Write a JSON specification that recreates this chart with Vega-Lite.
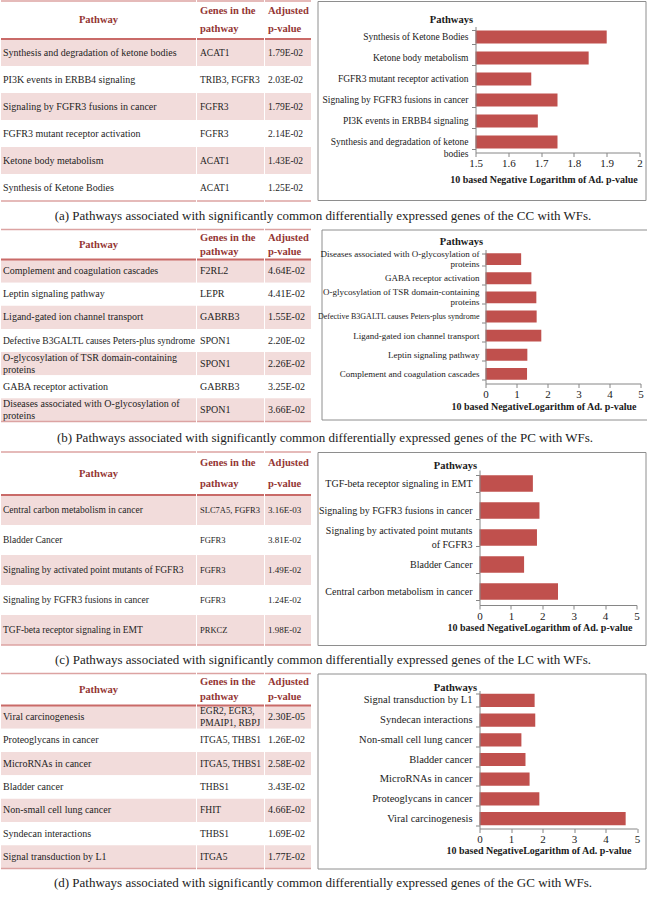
{
 "$schema": "https://vega.github.io/schema/vega-lite/v6.json",
 "padding": 0,
 "background": "white",
 "spacing": 5.5,
 "config": {
  "font": "Liberation Serif",
  "view": {"stroke": null},
  "axis": {"labelFont": "Liberation Serif", "titleFont": "Liberation Serif"},
  "title": {"font": "Liberation Serif"},
  "text": {"font": "Liberation Serif"}
 },
 "datasets": {
  "tA": [
   {"i": 1, "pathway": "Synthesis and degradation of ketone bodies", "genes": "ACAT1", "padj": "1.79E-02"},
   {"i": 2, "pathway": "PI3K events in ERBB4 signaling", "genes": "TRIB3, FGFR3", "padj": "2.03E-02"},
   {"i": 3, "pathway": "Signaling by FGFR3 fusions in cancer", "genes": "FGFR3", "padj": "1.79E-02"},
   {"i": 4, "pathway": "FGFR3 mutant receptor activation", "genes": "FGFR3", "padj": "2.14E-02"},
   {"i": 5, "pathway": "Ketone body metabolism", "genes": "ACAT1", "padj": "1.43E-02"},
   {"i": 6, "pathway": "Synthesis of Ketone Bodies", "genes": "ACAT1", "padj": "1.25E-02"}
  ],
  "cA": [
   {"pathway": "Synthesis of Ketone Bodies", "v": 1.90},
   {"pathway": "Ketone body metabolism", "v": 1.845},
   {"pathway": "FGFR3 mutant receptor activation", "v": 1.67},
   {"pathway": "Signaling by FGFR3 fusions in cancer", "v": 1.75},
   {"pathway": "PI3K events in ERBB4 signaling", "v": 1.69},
   {"pathway": "Synthesis and degradation of ketone\nbodies", "v": 1.75}
  ],
  "tB": [
   {"i": 1, "pathway": "Complement and coagulation cascades", "genes": "F2RL2", "padj": "4.64E-02"},
   {"i": 2, "pathway": "Leptin signaling pathway", "genes": "LEPR", "padj": "4.41E-02"},
   {"i": 3, "pathway": "Ligand-gated ion channel transport", "genes": "GABRB3", "padj": "1.55E-02"},
   {"i": 4, "pathway": "Defective B3GALTL causes Peters-plus syndrome", "genes": "SPON1", "padj": "2.20E-02"},
   {"i": 5, "pathway": "O-glycosylation of TSR domain-containing\nproteins", "genes": "SPON1", "padj": "2.26E-02"},
   {"i": 6, "pathway": "GABA receptor activation", "genes": "GABRB3", "padj": "3.25E-02"},
   {"i": 7, "pathway": "Diseases associated with O-glycosylation of\nproteins", "genes": "SPON1", "padj": "3.66E-02"}
  ],
  "cB": [
   {"pathway": "Diseases associated with O-glycosylation of\nproteins", "v": 1.15},
   {"pathway": "GABA receptor activation", "v": 1.48},
   {"pathway": "O-glycosylation of TSR domain-containing\nproteins", "v": 1.64},
   {"pathway": "Defective B3GALTL causes Peters-plus syndrome", "v": 1.65},
   {"pathway": "Ligand-gated ion channel transport", "v": 1.80},
   {"pathway": "Leptin signaling pathway", "v": 1.35},
   {"pathway": "Complement and coagulation cascades", "v": 1.34}
  ],
  "tC": [
   {"i": 1, "pathway": "Central carbon metabolism in cancer", "genes": "SLC7A5, FGFR3", "padj": "3.16E-03"},
   {"i": 2, "pathway": "Bladder Cancer", "genes": "FGFR3", "padj": "3.81E-02"},
   {"i": 3, "pathway": "Signaling by activated point mutants of FGFR3", "genes": "FGFR3", "padj": "1.49E-02"},
   {"i": 4, "pathway": "Signaling by FGFR3 fusions in cancer", "genes": "FGFR3", "padj": "1.24E-02"},
   {"i": 5, "pathway": "TGF-beta receptor signaling in EMT", "genes": "PRKCZ", "padj": "1.98E-02"}
  ],
  "cC": [
   {"pathway": "TGF-beta receptor signaling in EMT", "v": 1.70},
   {"pathway": "Signaling by FGFR3 fusions in cancer", "v": 1.91},
   {"pathway": "Signaling by activated point mutants\nof FGFR3", "v": 1.83},
   {"pathway": "Bladder Cancer", "v": 1.42},
   {"pathway": "Central carbon metabolism in cancer", "v": 2.50}
  ],
  "tD": [
   {"i": 1, "pathway": "Viral carcinogenesis", "genes": "EGR2, EGR3,\nPMAIP1, RBPJ", "padj": "2.30E-05"},
   {"i": 2, "pathway": "Proteoglycans in cancer", "genes": "ITGA5, THBS1", "padj": "1.26E-02"},
   {"i": 3, "pathway": "MicroRNAs in cancer", "genes": "ITGA5, THBS1", "padj": "2.58E-02"},
   {"i": 4, "pathway": "Bladder cancer", "genes": "THBS1", "padj": "3.43E-02"},
   {"i": 5, "pathway": "Non-small cell lung cancer", "genes": "FHIT", "padj": "4.66E-02"},
   {"i": 6, "pathway": "Syndecan interactions", "genes": "THBS1", "padj": "1.69E-02"},
   {"i": 7, "pathway": "Signal transduction by L1", "genes": "ITGA5", "padj": "1.77E-02"}
  ],
  "cD": [
   {"pathway": "Signal transduction by L1", "v": 1.75},
   {"pathway": "Syndecan interactions", "v": 1.77},
   {"pathway": "Non-small cell lung cancer", "v": 1.33},
   {"pathway": "Bladder cancer", "v": 1.46},
   {"pathway": "MicroRNAs in cancer", "v": 1.59},
   {"pathway": "Proteoglycans in cancer", "v": 1.90},
   {"pathway": "Viral carcinogenesis", "v": 4.64}
  ]
 },
 "vconcat": [
  {
   "title": {"text": "(a) Pathways associated with significantly common differentially expressed genes of the CC with WFs.", "orient": "bottom", "anchor": "middle", "offset": 8, "fontSize": 13, "fontWeight": "normal", "color": "#222222"},
   "spacing": 4.5,
   "hconcat": [
    {"spacing": -2, "vconcat": [
     {"spacing": -2, "hconcat": [
      {"width": 195, "height": 38, "data": {"values": [{"h": "Pathway"}]},
       "layer": [
        {"mark": {"type": "text", "align": "center", "baseline": "middle", "fontSize": 10.5, "fontWeight": "bold", "color": "#943634"},
         "encoding": {"y": {"field": "h", "type": "nominal", "axis": null, "scale": {"paddingInner": 0, "paddingOuter": 0}}, "x": {"datum": 0.5, "type": "quantitative", "scale": {"domain": [0, 1]}, "axis": null}, "text": {"field": "h"}}},
        {"mark": {"type": "rule", "color": "#dca3a2", "strokeWidth": 1.5},
         "encoding": {"y": {"field": "h", "type": "nominal", "bandPosition": 0, "axis": null}, "x": {"datum": 0, "type": "quantitative", "axis": null}, "x2": {"datum": 1}}}
       ]},
      {"width": 67, "height": 38, "data": {"values": [{"h": "Genes in the\npathway"}]},
       "layer": [
        {"mark": {"type": "text", "align": "left", "dx": 3, "dy": -9, "baseline": "middle", "fontSize": 10.5, "fontWeight": "bold", "color": "#943634", "lineBreak": "\n", "lineHeight": 18},
         "encoding": {"y": {"field": "h", "type": "nominal", "axis": null, "scale": {"paddingInner": 0, "paddingOuter": 0}}, "x": {"datum": 0, "type": "quantitative", "scale": {"domain": [0, 1]}, "axis": null}, "text": {"field": "h"}}},
        {"mark": {"type": "rule", "color": "#dca3a2", "strokeWidth": 1.5},
         "encoding": {"y": {"field": "h", "type": "nominal", "bandPosition": 0, "axis": null}, "x": {"datum": 0, "type": "quantitative", "axis": null}, "x2": {"datum": 1}}}
       ]},
      {"width": 46, "height": 38, "data": {"values": [{"h": "Adjusted\np-value"}]},
       "layer": [
        {"mark": {"type": "text", "align": "left", "dx": 3, "dy": -9, "baseline": "middle", "fontSize": 10.5, "fontWeight": "bold", "color": "#943634", "lineBreak": "\n", "lineHeight": 18},
         "encoding": {"y": {"field": "h", "type": "nominal", "axis": null, "scale": {"paddingInner": 0, "paddingOuter": 0}}, "x": {"datum": 0, "type": "quantitative", "scale": {"domain": [0, 1]}, "axis": null}, "text": {"field": "h"}}},
        {"mark": {"type": "rule", "color": "#dca3a2", "strokeWidth": 1.5},
         "encoding": {"y": {"field": "h", "type": "nominal", "bandPosition": 0, "axis": null}, "x": {"datum": 0, "type": "quantitative", "axis": null}, "x2": {"datum": 1}}}
       ]}
     ]},
     {"spacing": -3, "hconcat": [
      {"width": 195, "height": 162, "data": {"name": "tA"},
       "layer": [
        {"mark": "rect", "encoding": {"y": {"field": "i", "type": "ordinal", "axis": null, "scale": {"paddingInner": 0, "paddingOuter": 0}}, "x": {"datum": 0, "type": "quantitative", "scale": {"domain": [0, 1]}, "axis": null}, "x2": {"datum": 1}, "fill": {"condition": {"test": "datum.i % 2 == 1", "value": "#f2dcdb"}, "value": "#ffffff"}}},
        {"mark": {"type": "text", "align": "left", "baseline": "middle", "dx": 2, "fontSize": 10, "color": "#1e1e1e"},
         "encoding": {"y": {"field": "i", "type": "ordinal", "axis": null}, "x": {"datum": 0, "type": "quantitative", "axis": null}, "text": {"field": "pathway"}}},
        {"transform": [{"filter": "datum.i == 1"}], "mark": {"type": "rule", "color": "#c96a68", "strokeWidth": 2},
         "encoding": {"y": {"field": "i", "type": "ordinal", "bandPosition": 0, "axis": null}, "x": {"datum": 0, "type": "quantitative", "axis": null}, "x2": {"datum": 1}}},
        {"transform": [{"filter": "datum.i == 6"}], "mark": {"type": "rule", "color": "#dca3a2", "strokeWidth": 1.5},
         "encoding": {"y": {"field": "i", "type": "ordinal", "bandPosition": 1, "axis": null}, "x": {"datum": 0, "type": "quantitative", "axis": null}, "x2": {"datum": 1}}}
       ]},
      {"width": 67, "height": 162, "data": {"name": "tA"},
       "layer": [
        {"mark": "rect", "encoding": {"y": {"field": "i", "type": "ordinal", "axis": null, "scale": {"paddingInner": 0, "paddingOuter": 0}}, "x": {"datum": 0, "type": "quantitative", "scale": {"domain": [0, 1]}, "axis": null}, "x2": {"datum": 1}, "fill": {"condition": {"test": "datum.i % 2 == 1", "value": "#f2dcdb"}, "value": "#ffffff"}}},
        {"mark": {"type": "text", "align": "left", "baseline": "middle", "dx": 3, "fontSize": 9.5, "color": "#1e1e1e"},
         "encoding": {"y": {"field": "i", "type": "ordinal", "axis": null}, "x": {"datum": 0, "type": "quantitative", "axis": null}, "text": {"field": "genes"}}},
        {"transform": [{"filter": "datum.i == 1"}], "mark": {"type": "rule", "color": "#c96a68", "strokeWidth": 2},
         "encoding": {"y": {"field": "i", "type": "ordinal", "bandPosition": 0, "axis": null}, "x": {"datum": 0, "type": "quantitative", "axis": null}, "x2": {"datum": 1}}},
        {"transform": [{"filter": "datum.i == 6"}], "mark": {"type": "rule", "color": "#dca3a2", "strokeWidth": 1.5},
         "encoding": {"y": {"field": "i", "type": "ordinal", "bandPosition": 1, "axis": null}, "x": {"datum": 0, "type": "quantitative", "axis": null}, "x2": {"datum": 1}}}
       ]},
      {"width": 46, "height": 162, "data": {"name": "tA"},
       "layer": [
        {"mark": "rect", "encoding": {"y": {"field": "i", "type": "ordinal", "axis": null, "scale": {"paddingInner": 0, "paddingOuter": 0}}, "x": {"datum": 0, "type": "quantitative", "scale": {"domain": [0, 1]}, "axis": null}, "x2": {"datum": 1}, "fill": {"condition": {"test": "datum.i % 2 == 1", "value": "#f2dcdb"}, "value": "#ffffff"}}},
        {"mark": {"type": "text", "align": "left", "baseline": "middle", "dx": 3, "fontSize": 9.5, "color": "#1e1e1e"},
         "encoding": {"y": {"field": "i", "type": "ordinal", "axis": null}, "x": {"datum": 0, "type": "quantitative", "axis": null}, "text": {"field": "padj"}}},
        {"transform": [{"filter": "datum.i == 1"}], "mark": {"type": "rule", "color": "#c96a68", "strokeWidth": 2},
         "encoding": {"y": {"field": "i", "type": "ordinal", "bandPosition": 0, "axis": null}, "x": {"datum": 0, "type": "quantitative", "axis": null}, "x2": {"datum": 1}}},
        {"transform": [{"filter": "datum.i == 6"}], "mark": {"type": "rule", "color": "#dca3a2", "strokeWidth": 1.5},
         "encoding": {"y": {"field": "i", "type": "ordinal", "bandPosition": 1, "axis": null}, "x": {"datum": 0, "type": "quantitative", "axis": null}, "x2": {"datum": 1}}}
       ]}
     ]}
    ]},
    {"width": 328, "height": 199,
     "view": {"stroke": "#8e8e8e"},
     "data": {"name": "cA"},
     "layer": [
      {"mark": {"type": "bar", "color": "#c0504d"},
       "encoding": {
        "y": {"field": "pathway", "type": "nominal",
              "scale": {"domain": ["Synthesis of Ketone Bodies", "Ketone body metabolism", "FGFR3 mutant receptor activation", "Signaling by FGFR3 fusions in cancer", "PI3K events in ERBB4 signaling", "Synthesis and degradation of ketone\nbodies"], "range": [25.5, 151.5], "paddingInner": 0.38, "paddingOuter": 0.19},
              "axis": {"offset": -158, "labels": false, "domainColor": "#868686", "tickColor": "#868686", "tickSize": 4, "tickBand": "extent", "title": "Pathways", "titleAngle": 0, "titleAlign": "right", "titleBaseline": "middle", "titleX": -3, "titleY": 18, "titleFontSize": 10.5, "titleFontWeight": "bold", "titleColor": "#1a1a1a", "zindex": 1}},
        "x": {"field": "v", "type": "quantitative",
              "scale": {"domain": [1.5, 2], "range": [158, 322], "nice": false, "zero": false},
              "axis": {"offset": -47.5, "values": [1.5, 1.6, 1.7, 1.8, 1.9, 2], "format": "~g", "labelFlush": false, "domainColor": "#868686", "tickColor": "#868686", "tickSize": 4, "labelFontSize": 11, "labelPadding": 1, "labelColor": "#1a1a1a", "grid": false, "title": "10 based Negative  Logarithm of Ad. p-value", "titleFontSize": 10, "titleFontWeight": "bold", "titleColor": "#1a1a1a", "titleX": 226, "titleY": 27, "titleAlign": "center", "titleBaseline": "middle", "zindex": 1}},
        "x2": {"datum": 1.5}}},
      {"mark": {"type": "text", "align": "right", "baseline": "middle", "dx": -7, "fontSize": 9.5, "lineBreak": "\n", "lineHeight": 12, "color": "#1a1a1a"},
       "encoding": {"y": {"field": "pathway", "type": "nominal"}, "x": {"datum": 1.5, "type": "quantitative"}, "text": {"field": "pathway"}}}
     ]}
   ]
  },
  {
   "title": {"text": "(b) Pathways associated with significantly common differentially expressed genes of the PC with WFs.", "orient": "bottom", "anchor": "middle", "offset": 10, "fontSize": 13, "fontWeight": "normal", "color": "#222222"},
   "spacing": 4.5,
   "hconcat": [
    {"spacing": -2, "vconcat": [
     {"spacing": -2, "hconcat": [
      {"width": 195, "height": 30, "data": {"values": [{"h": "Pathway"}]},
       "layer": [
        {"mark": {"type": "text", "align": "center", "baseline": "middle", "fontSize": 10.5, "fontWeight": "bold", "color": "#943634"},
         "encoding": {"y": {"field": "h", "type": "nominal", "axis": null, "scale": {"paddingInner": 0, "paddingOuter": 0}}, "x": {"datum": 0.5, "type": "quantitative", "scale": {"domain": [0, 1]}, "axis": null}, "text": {"field": "h"}}},
        {"mark": {"type": "rule", "color": "#dca3a2", "strokeWidth": 1.5},
         "encoding": {"y": {"field": "h", "type": "nominal", "bandPosition": 0, "axis": null}, "x": {"datum": 0, "type": "quantitative", "axis": null}, "x2": {"datum": 1}}}
       ]},
      {"width": 67, "height": 30, "data": {"values": [{"h": "Genes in the\npathway"}]},
       "layer": [
        {"mark": {"type": "text", "align": "left", "dx": 3, "dy": -7, "baseline": "middle", "fontSize": 10.5, "fontWeight": "bold", "color": "#943634", "lineBreak": "\n", "lineHeight": 14},
         "encoding": {"y": {"field": "h", "type": "nominal", "axis": null, "scale": {"paddingInner": 0, "paddingOuter": 0}}, "x": {"datum": 0, "type": "quantitative", "scale": {"domain": [0, 1]}, "axis": null}, "text": {"field": "h"}}},
        {"mark": {"type": "rule", "color": "#dca3a2", "strokeWidth": 1.5},
         "encoding": {"y": {"field": "h", "type": "nominal", "bandPosition": 0, "axis": null}, "x": {"datum": 0, "type": "quantitative", "axis": null}, "x2": {"datum": 1}}}
       ]},
      {"width": 46, "height": 30, "data": {"values": [{"h": "Adjusted\np-value"}]},
       "layer": [
        {"mark": {"type": "text", "align": "left", "dx": 3, "dy": -7, "baseline": "middle", "fontSize": 10.5, "fontWeight": "bold", "color": "#943634", "lineBreak": "\n", "lineHeight": 14},
         "encoding": {"y": {"field": "h", "type": "nominal", "axis": null, "scale": {"paddingInner": 0, "paddingOuter": 0}}, "x": {"datum": 0, "type": "quantitative", "scale": {"domain": [0, 1]}, "axis": null}, "text": {"field": "h"}}},
        {"mark": {"type": "rule", "color": "#dca3a2", "strokeWidth": 1.5},
         "encoding": {"y": {"field": "h", "type": "nominal", "bandPosition": 0, "axis": null}, "x": {"datum": 0, "type": "quantitative", "axis": null}, "x2": {"datum": 1}}}
       ]}
     ]},
     {"spacing": -3, "hconcat": [
      {"width": 195, "height": 162, "data": {"name": "tB"},
       "layer": [
        {"mark": "rect", "encoding": {"y": {"field": "i", "type": "ordinal", "axis": null, "scale": {"paddingInner": 0, "paddingOuter": 0}}, "x": {"datum": 0, "type": "quantitative", "scale": {"domain": [0, 1]}, "axis": null}, "x2": {"datum": 1}, "fill": {"condition": {"test": "datum.i % 2 == 1", "value": "#f2dcdb"}, "value": "#ffffff"}}},
        {"transform": [{"filter": "indexof(datum.pathway, '\\n') < 0"}],
         "mark": {"type": "text", "align": "left", "baseline": "middle", "dx": 2, "color": "#1e1e1e"},
         "encoding": {"y": {"field": "i", "type": "ordinal", "axis": null}, "x": {"datum": 0, "type": "quantitative", "axis": null}, "size": {"condition": {"test": "datum.i == 4", "value": 9.5}, "value": 10}, "text": {"field": "pathway"}}},
        {"transform": [{"filter": "indexof(datum.pathway, '\\n') >= 0"}],
         "mark": {"type": "text", "align": "left", "baseline": "middle", "dx": 2, "dy": -6, "fontSize": 10, "lineBreak": "\n", "lineHeight": 12, "color": "#1e1e1e"},
         "encoding": {"y": {"field": "i", "type": "ordinal", "axis": null}, "x": {"datum": 0, "type": "quantitative", "axis": null}, "text": {"field": "pathway"}}},
        {"transform": [{"filter": "datum.i == 1"}], "mark": {"type": "rule", "color": "#c96a68", "strokeWidth": 2},
         "encoding": {"y": {"field": "i", "type": "ordinal", "bandPosition": 0, "axis": null}, "x": {"datum": 0, "type": "quantitative", "axis": null}, "x2": {"datum": 1}}},
        {"transform": [{"filter": "datum.i == 7"}], "mark": {"type": "rule", "color": "#dca3a2", "strokeWidth": 1.5},
         "encoding": {"y": {"field": "i", "type": "ordinal", "bandPosition": 1, "axis": null}, "x": {"datum": 0, "type": "quantitative", "axis": null}, "x2": {"datum": 1}}}
       ]},
      {"width": 67, "height": 162, "data": {"name": "tB"},
       "layer": [
        {"mark": "rect", "encoding": {"y": {"field": "i", "type": "ordinal", "axis": null, "scale": {"paddingInner": 0, "paddingOuter": 0}}, "x": {"datum": 0, "type": "quantitative", "scale": {"domain": [0, 1]}, "axis": null}, "x2": {"datum": 1}, "fill": {"condition": {"test": "datum.i % 2 == 1", "value": "#f2dcdb"}, "value": "#ffffff"}}},
        {"mark": {"type": "text", "align": "left", "baseline": "middle", "dx": 3, "fontSize": 10, "color": "#1e1e1e"},
         "encoding": {"y": {"field": "i", "type": "ordinal", "axis": null}, "x": {"datum": 0, "type": "quantitative", "axis": null}, "text": {"field": "genes"}}},
        {"transform": [{"filter": "datum.i == 1"}], "mark": {"type": "rule", "color": "#c96a68", "strokeWidth": 2},
         "encoding": {"y": {"field": "i", "type": "ordinal", "bandPosition": 0, "axis": null}, "x": {"datum": 0, "type": "quantitative", "axis": null}, "x2": {"datum": 1}}},
        {"transform": [{"filter": "datum.i == 7"}], "mark": {"type": "rule", "color": "#dca3a2", "strokeWidth": 1.5},
         "encoding": {"y": {"field": "i", "type": "ordinal", "bandPosition": 1, "axis": null}, "x": {"datum": 0, "type": "quantitative", "axis": null}, "x2": {"datum": 1}}}
       ]},
      {"width": 46, "height": 162, "data": {"name": "tB"},
       "layer": [
        {"mark": "rect", "encoding": {"y": {"field": "i", "type": "ordinal", "axis": null, "scale": {"paddingInner": 0, "paddingOuter": 0}}, "x": {"datum": 0, "type": "quantitative", "scale": {"domain": [0, 1]}, "axis": null}, "x2": {"datum": 1}, "fill": {"condition": {"test": "datum.i % 2 == 1", "value": "#f2dcdb"}, "value": "#ffffff"}}},
        {"mark": {"type": "text", "align": "left", "baseline": "middle", "dx": 3, "fontSize": 10, "color": "#1e1e1e"},
         "encoding": {"y": {"field": "i", "type": "ordinal", "axis": null}, "x": {"datum": 0, "type": "quantitative", "axis": null}, "text": {"field": "padj"}}},
        {"transform": [{"filter": "datum.i == 1"}], "mark": {"type": "rule", "color": "#c96a68", "strokeWidth": 2},
         "encoding": {"y": {"field": "i", "type": "ordinal", "bandPosition": 0, "axis": null}, "x": {"datum": 0, "type": "quantitative", "axis": null}, "x2": {"datum": 1}}},
        {"transform": [{"filter": "datum.i == 7"}], "mark": {"type": "rule", "color": "#dca3a2", "strokeWidth": 1.5},
         "encoding": {"y": {"field": "i", "type": "ordinal", "bandPosition": 1, "axis": null}, "x": {"datum": 0, "type": "quantitative", "axis": null}, "x2": {"datum": 1}}}
       ]}
     ]}
    ]},
    {"width": 328, "height": 190,
     "view": {"stroke": "#8e8e8e"},
     "data": {"name": "cB"},
     "layer": [
      {"mark": {"type": "bar", "color": "#c0504d"},
       "encoding": {
        "y": {"field": "pathway", "type": "nominal",
              "scale": {"domain": ["Diseases associated with O-glycosylation of\nproteins", "GABA receptor activation", "O-glycosylation of TSR domain-containing\nproteins", "Defective B3GALTL causes Peters-plus syndrome", "Ligand-gated ion channel transport", "Leptin signaling pathway", "Complement and coagulation cascades"], "range": [20, 154], "paddingInner": 0.38, "paddingOuter": 0.19},
              "axis": {"offset": -164, "labels": false, "domainColor": "#868686", "tickColor": "#868686", "tickSize": 4, "tickBand": "extent", "title": "Pathways", "titleAngle": 0, "titleAlign": "right", "titleBaseline": "middle", "titleX": -3, "titleY": 12, "titleFontSize": 10.5, "titleFontWeight": "bold", "titleColor": "#1a1a1a", "zindex": 1}},
        "x": {"field": "v", "type": "quantitative",
              "scale": {"domain": [0, 5], "range": [164, 319], "nice": false, "zero": true},
              "axis": {"offset": -36, "values": [0, 1, 2, 3, 4, 5], "format": "~g", "labelFlush": false, "domainColor": "#868686", "tickColor": "#868686", "tickSize": 4, "labelFontSize": 11, "labelPadding": 1, "labelColor": "#1a1a1a", "grid": false, "title": "10 based NegativeLogarithm of Ad. p-value", "titleFontSize": 10, "titleFontWeight": "bold", "titleColor": "#1a1a1a", "titleX": 222, "titleY": 23, "titleAlign": "center", "titleBaseline": "middle", "zindex": 1}},
        "x2": {"datum": 0}}},
      {"transform": [{"filter": "indexof(datum.pathway, '\\n') < 0"}],
       "mark": {"type": "text", "align": "right", "baseline": "middle", "dx": -6, "color": "#1a1a1a"},
       "encoding": {"y": {"field": "pathway", "type": "nominal"}, "x": {"datum": 0, "type": "quantitative"}, "size": {"condition": {"test": "indexof(datum.pathway, 'Defective') == 0", "value": 8}, "value": 9}, "text": {"field": "pathway"}}},
      {"transform": [{"filter": "indexof(datum.pathway, '\\n') >= 0"}],
       "mark": {"type": "text", "align": "right", "baseline": "middle", "dx": -6, "dy": -5, "fontSize": 9, "lineBreak": "\n", "lineHeight": 10, "color": "#1a1a1a"},
       "encoding": {"y": {"field": "pathway", "type": "nominal"}, "x": {"datum": 0, "type": "quantitative"}, "text": {"field": "pathway"}}}
     ]}
   ]
  },
  {
   "title": {"text": "(c) Pathways associated with significantly common differentially expressed genes of the LC with WFs.", "orient": "bottom", "anchor": "middle", "offset": 8, "fontSize": 13, "fontWeight": "normal", "color": "#222222"},
   "spacing": 4.5,
   "hconcat": [
    {"spacing": -2, "vconcat": [
     {"spacing": -2, "hconcat": [
      {"width": 195, "height": 43, "data": {"values": [{"h": "Pathway"}]},
       "layer": [
        {"mark": {"type": "text", "align": "center", "baseline": "middle", "fontSize": 10.5, "fontWeight": "bold", "color": "#943634"},
         "encoding": {"y": {"field": "h", "type": "nominal", "axis": null, "scale": {"paddingInner": 0, "paddingOuter": 0}}, "x": {"datum": 0.5, "type": "quantitative", "scale": {"domain": [0, 1]}, "axis": null}, "text": {"field": "h"}}},
        {"mark": {"type": "rule", "color": "#dca3a2", "strokeWidth": 1.5},
         "encoding": {"y": {"field": "h", "type": "nominal", "bandPosition": 0, "axis": null}, "x": {"datum": 0, "type": "quantitative", "axis": null}, "x2": {"datum": 1}}}
       ]},
      {"width": 67, "height": 43, "data": {"values": [{"h": "Genes in the\npathway"}]},
       "layer": [
        {"mark": {"type": "text", "align": "left", "dx": 3, "dy": -10.5, "baseline": "middle", "fontSize": 10.5, "fontWeight": "bold", "color": "#943634", "lineBreak": "\n", "lineHeight": 21},
         "encoding": {"y": {"field": "h", "type": "nominal", "axis": null, "scale": {"paddingInner": 0, "paddingOuter": 0}}, "x": {"datum": 0, "type": "quantitative", "scale": {"domain": [0, 1]}, "axis": null}, "text": {"field": "h"}}},
        {"mark": {"type": "rule", "color": "#dca3a2", "strokeWidth": 1.5},
         "encoding": {"y": {"field": "h", "type": "nominal", "bandPosition": 0, "axis": null}, "x": {"datum": 0, "type": "quantitative", "axis": null}, "x2": {"datum": 1}}}
       ]},
      {"width": 46, "height": 43, "data": {"values": [{"h": "Adjusted\np-value"}]},
       "layer": [
        {"mark": {"type": "text", "align": "left", "dx": 3, "dy": -10.5, "baseline": "middle", "fontSize": 10.5, "fontWeight": "bold", "color": "#943634", "lineBreak": "\n", "lineHeight": 21},
         "encoding": {"y": {"field": "h", "type": "nominal", "axis": null, "scale": {"paddingInner": 0, "paddingOuter": 0}}, "x": {"datum": 0, "type": "quantitative", "scale": {"domain": [0, 1]}, "axis": null}, "text": {"field": "h"}}},
        {"mark": {"type": "rule", "color": "#dca3a2", "strokeWidth": 1.5},
         "encoding": {"y": {"field": "h", "type": "nominal", "bandPosition": 0, "axis": null}, "x": {"datum": 0, "type": "quantitative", "axis": null}, "x2": {"datum": 1}}}
       ]}
     ]},
     {"spacing": -3, "hconcat": [
      {"width": 195, "height": 150, "data": {"name": "tC"},
       "layer": [
        {"mark": "rect", "encoding": {"y": {"field": "i", "type": "ordinal", "axis": null, "scale": {"paddingInner": 0, "paddingOuter": 0}}, "x": {"datum": 0, "type": "quantitative", "scale": {"domain": [0, 1]}, "axis": null}, "x2": {"datum": 1}, "fill": {"condition": {"test": "datum.i % 2 == 1", "value": "#f2dcdb"}, "value": "#ffffff"}}},
        {"mark": {"type": "text", "align": "left", "baseline": "middle", "dx": 2, "fontSize": 9.5, "color": "#1e1e1e"},
         "encoding": {"y": {"field": "i", "type": "ordinal", "axis": null}, "x": {"datum": 0, "type": "quantitative", "axis": null}, "text": {"field": "pathway"}}},
        {"transform": [{"filter": "datum.i == 1"}], "mark": {"type": "rule", "color": "#c96a68", "strokeWidth": 2},
         "encoding": {"y": {"field": "i", "type": "ordinal", "bandPosition": 0, "axis": null}, "x": {"datum": 0, "type": "quantitative", "axis": null}, "x2": {"datum": 1}}},
        {"transform": [{"filter": "datum.i == 5"}], "mark": {"type": "rule", "color": "#dca3a2", "strokeWidth": 1.5},
         "encoding": {"y": {"field": "i", "type": "ordinal", "bandPosition": 1, "axis": null}, "x": {"datum": 0, "type": "quantitative", "axis": null}, "x2": {"datum": 1}}}
       ]},
      {"width": 67, "height": 150, "data": {"name": "tC"},
       "layer": [
        {"mark": "rect", "encoding": {"y": {"field": "i", "type": "ordinal", "axis": null, "scale": {"paddingInner": 0, "paddingOuter": 0}}, "x": {"datum": 0, "type": "quantitative", "scale": {"domain": [0, 1]}, "axis": null}, "x2": {"datum": 1}, "fill": {"condition": {"test": "datum.i % 2 == 1", "value": "#f2dcdb"}, "value": "#ffffff"}}},
        {"mark": {"type": "text", "align": "left", "baseline": "middle", "dx": 3, "fontSize": 8.5, "color": "#1e1e1e"},
         "encoding": {"y": {"field": "i", "type": "ordinal", "axis": null}, "x": {"datum": 0, "type": "quantitative", "axis": null}, "text": {"field": "genes"}}},
        {"transform": [{"filter": "datum.i == 1"}], "mark": {"type": "rule", "color": "#c96a68", "strokeWidth": 2},
         "encoding": {"y": {"field": "i", "type": "ordinal", "bandPosition": 0, "axis": null}, "x": {"datum": 0, "type": "quantitative", "axis": null}, "x2": {"datum": 1}}},
        {"transform": [{"filter": "datum.i == 5"}], "mark": {"type": "rule", "color": "#dca3a2", "strokeWidth": 1.5},
         "encoding": {"y": {"field": "i", "type": "ordinal", "bandPosition": 1, "axis": null}, "x": {"datum": 0, "type": "quantitative", "axis": null}, "x2": {"datum": 1}}}
       ]},
      {"width": 46, "height": 150, "data": {"name": "tC"},
       "layer": [
        {"mark": "rect", "encoding": {"y": {"field": "i", "type": "ordinal", "axis": null, "scale": {"paddingInner": 0, "paddingOuter": 0}}, "x": {"datum": 0, "type": "quantitative", "scale": {"domain": [0, 1]}, "axis": null}, "x2": {"datum": 1}, "fill": {"condition": {"test": "datum.i % 2 == 1", "value": "#f2dcdb"}, "value": "#ffffff"}}},
        {"mark": {"type": "text", "align": "left", "baseline": "middle", "dx": 3, "fontSize": 9, "color": "#1e1e1e"},
         "encoding": {"y": {"field": "i", "type": "ordinal", "axis": null}, "x": {"datum": 0, "type": "quantitative", "axis": null}, "text": {"field": "padj"}}},
        {"transform": [{"filter": "datum.i == 1"}], "mark": {"type": "rule", "color": "#c96a68", "strokeWidth": 2},
         "encoding": {"y": {"field": "i", "type": "ordinal", "bandPosition": 0, "axis": null}, "x": {"datum": 0, "type": "quantitative", "axis": null}, "x2": {"datum": 1}}},
        {"transform": [{"filter": "datum.i == 5"}], "mark": {"type": "rule", "color": "#dca3a2", "strokeWidth": 1.5},
         "encoding": {"y": {"field": "i", "type": "ordinal", "bandPosition": 1, "axis": null}, "x": {"datum": 0, "type": "quantitative", "axis": null}, "x2": {"datum": 1}}}
       ]}
     ]}
    ]},
    {"width": 328, "height": 193,
     "view": {"stroke": "#8e8e8e"},
     "data": {"name": "cC"},
     "layer": [
      {"mark": {"type": "bar", "color": "#c0504d"},
       "encoding": {
        "y": {"field": "pathway", "type": "nominal",
              "scale": {"domain": ["TGF-beta receptor signaling in EMT", "Signaling by FGFR3 fusions in cancer", "Signaling by activated point mutants\nof FGFR3", "Bladder Cancer", "Central carbon metabolism in cancer"], "range": [18, 153], "paddingInner": 0.38, "paddingOuter": 0.19},
              "axis": {"offset": -162, "labels": false, "domainColor": "#868686", "tickColor": "#868686", "tickSize": 4, "tickBand": "extent", "title": "Pathways", "titleAngle": 0, "titleAlign": "right", "titleBaseline": "middle", "titleX": -3, "titleY": 13, "titleFontSize": 10.5, "titleFontWeight": "bold", "titleColor": "#1a1a1a", "zindex": 1}},
        "x": {"field": "v", "type": "quantitative",
              "scale": {"domain": [0, 5], "range": [162, 319], "nice": false, "zero": true},
              "axis": {"offset": -40, "values": [0, 1, 2, 3, 4, 5], "format": "~g", "labelFlush": false, "domainColor": "#868686", "tickColor": "#868686", "tickSize": 4, "labelFontSize": 11, "labelPadding": 1, "labelColor": "#1a1a1a", "grid": false, "title": "10 based NegativeLogarithm of Ad. p-value", "titleFontSize": 10, "titleFontWeight": "bold", "titleColor": "#1a1a1a", "titleX": 222, "titleY": 22, "titleAlign": "center", "titleBaseline": "middle", "zindex": 1}},
        "x2": {"datum": 0}}},
      {"transform": [{"filter": "indexof(datum.pathway, '\\n') < 0"}],
       "mark": {"type": "text", "align": "right", "baseline": "middle", "dx": -7, "fontSize": 10, "color": "#1a1a1a"},
       "encoding": {"y": {"field": "pathway", "type": "nominal"}, "x": {"datum": 0, "type": "quantitative"}, "text": {"field": "pathway"}}},
      {"transform": [{"filter": "indexof(datum.pathway, '\\n') >= 0"}],
       "mark": {"type": "text", "align": "right", "baseline": "middle", "dx": -7, "dy": -7, "fontSize": 10, "lineBreak": "\n", "lineHeight": 14, "color": "#1a1a1a"},
       "encoding": {"y": {"field": "pathway", "type": "nominal"}, "x": {"datum": 0, "type": "quantitative"}, "text": {"field": "pathway"}}}
     ]}
   ]
  },
  {
   "title": {"text": "(d) Pathways associated with significantly common differentially expressed genes of the GC with WFs.", "orient": "bottom", "anchor": "middle", "offset": 8, "fontSize": 13, "fontWeight": "normal", "color": "#222222"},
   "spacing": 4.5,
   "hconcat": [
    {"spacing": -2, "vconcat": [
     {"spacing": -2, "hconcat": [
      {"width": 195, "height": 32, "data": {"values": [{"h": "Pathway"}]},
       "layer": [
        {"mark": {"type": "text", "align": "center", "baseline": "middle", "fontSize": 10.5, "fontWeight": "bold", "color": "#943634"},
         "encoding": {"y": {"field": "h", "type": "nominal", "axis": null, "scale": {"paddingInner": 0, "paddingOuter": 0}}, "x": {"datum": 0.5, "type": "quantitative", "scale": {"domain": [0, 1]}, "axis": null}, "text": {"field": "h"}}},
        {"mark": {"type": "rule", "color": "#dca3a2", "strokeWidth": 1.5},
         "encoding": {"y": {"field": "h", "type": "nominal", "bandPosition": 0, "axis": null}, "x": {"datum": 0, "type": "quantitative", "axis": null}, "x2": {"datum": 1}}}
       ]},
      {"width": 67, "height": 32, "data": {"values": [{"h": "Genes in the\npathway"}]},
       "layer": [
        {"mark": {"type": "text", "align": "left", "dx": 3, "dy": -7.5, "baseline": "middle", "fontSize": 10.5, "fontWeight": "bold", "color": "#943634", "lineBreak": "\n", "lineHeight": 15},
         "encoding": {"y": {"field": "h", "type": "nominal", "axis": null, "scale": {"paddingInner": 0, "paddingOuter": 0}}, "x": {"datum": 0, "type": "quantitative", "scale": {"domain": [0, 1]}, "axis": null}, "text": {"field": "h"}}},
        {"mark": {"type": "rule", "color": "#dca3a2", "strokeWidth": 1.5},
         "encoding": {"y": {"field": "h", "type": "nominal", "bandPosition": 0, "axis": null}, "x": {"datum": 0, "type": "quantitative", "axis": null}, "x2": {"datum": 1}}}
       ]},
      {"width": 46, "height": 32, "data": {"values": [{"h": "Adjusted\np-value"}]},
       "layer": [
        {"mark": {"type": "text", "align": "left", "dx": 3, "dy": -7.5, "baseline": "middle", "fontSize": 10.5, "fontWeight": "bold", "color": "#943634", "lineBreak": "\n", "lineHeight": 15},
         "encoding": {"y": {"field": "h", "type": "nominal", "axis": null, "scale": {"paddingInner": 0, "paddingOuter": 0}}, "x": {"datum": 0, "type": "quantitative", "scale": {"domain": [0, 1]}, "axis": null}, "text": {"field": "h"}}},
        {"mark": {"type": "rule", "color": "#dca3a2", "strokeWidth": 1.5},
         "encoding": {"y": {"field": "h", "type": "nominal", "bandPosition": 0, "axis": null}, "x": {"datum": 0, "type": "quantitative", "axis": null}, "x2": {"datum": 1}}}
       ]}
     ]},
     {"spacing": -3, "hconcat": [
      {"width": 195, "height": 163, "data": {"name": "tD"},
       "layer": [
        {"mark": "rect", "encoding": {"y": {"field": "i", "type": "ordinal", "axis": null, "scale": {"paddingInner": 0, "paddingOuter": 0}}, "x": {"datum": 0, "type": "quantitative", "scale": {"domain": [0, 1]}, "axis": null}, "x2": {"datum": 1}, "fill": {"condition": {"test": "datum.i % 2 == 1", "value": "#f2dcdb"}, "value": "#ffffff"}}},
        {"mark": {"type": "text", "align": "left", "baseline": "middle", "dx": 2, "fontSize": 10, "color": "#1e1e1e"},
         "encoding": {"y": {"field": "i", "type": "ordinal", "axis": null}, "x": {"datum": 0, "type": "quantitative", "axis": null}, "text": {"field": "pathway"}}},
        {"transform": [{"filter": "datum.i == 1"}], "mark": {"type": "rule", "color": "#c96a68", "strokeWidth": 2},
         "encoding": {"y": {"field": "i", "type": "ordinal", "bandPosition": 0, "axis": null}, "x": {"datum": 0, "type": "quantitative", "axis": null}, "x2": {"datum": 1}}},
        {"transform": [{"filter": "datum.i == 7"}], "mark": {"type": "rule", "color": "#dca3a2", "strokeWidth": 1.5},
         "encoding": {"y": {"field": "i", "type": "ordinal", "bandPosition": 1, "axis": null}, "x": {"datum": 0, "type": "quantitative", "axis": null}, "x2": {"datum": 1}}}
       ]},
      {"width": 67, "height": 163, "data": {"name": "tD"},
       "layer": [
        {"mark": "rect", "encoding": {"y": {"field": "i", "type": "ordinal", "axis": null, "scale": {"paddingInner": 0, "paddingOuter": 0}}, "x": {"datum": 0, "type": "quantitative", "scale": {"domain": [0, 1]}, "axis": null}, "x2": {"datum": 1}, "fill": {"condition": {"test": "datum.i % 2 == 1", "value": "#f2dcdb"}, "value": "#ffffff"}}},
        {"transform": [{"filter": "indexof(datum.genes, '\\n') < 0"}],
         "mark": {"type": "text", "align": "left", "baseline": "middle", "dx": 3, "fontSize": 9.5, "color": "#1e1e1e"},
         "encoding": {"y": {"field": "i", "type": "ordinal", "axis": null}, "x": {"datum": 0, "type": "quantitative", "axis": null}, "text": {"field": "genes"}}},
        {"transform": [{"filter": "indexof(datum.genes, '\\n') >= 0"}],
         "mark": {"type": "text", "align": "left", "baseline": "middle", "dx": 3, "dy": -5.75, "fontSize": 9.5, "lineBreak": "\n", "lineHeight": 11.5, "color": "#1e1e1e"},
         "encoding": {"y": {"field": "i", "type": "ordinal", "axis": null}, "x": {"datum": 0, "type": "quantitative", "axis": null}, "text": {"field": "genes"}}},
        {"transform": [{"filter": "datum.i == 1"}], "mark": {"type": "rule", "color": "#c96a68", "strokeWidth": 2},
         "encoding": {"y": {"field": "i", "type": "ordinal", "bandPosition": 0, "axis": null}, "x": {"datum": 0, "type": "quantitative", "axis": null}, "x2": {"datum": 1}}},
        {"transform": [{"filter": "datum.i == 7"}], "mark": {"type": "rule", "color": "#dca3a2", "strokeWidth": 1.5},
         "encoding": {"y": {"field": "i", "type": "ordinal", "bandPosition": 1, "axis": null}, "x": {"datum": 0, "type": "quantitative", "axis": null}, "x2": {"datum": 1}}}
       ]},
      {"width": 46, "height": 163, "data": {"name": "tD"},
       "layer": [
        {"mark": "rect", "encoding": {"y": {"field": "i", "type": "ordinal", "axis": null, "scale": {"paddingInner": 0, "paddingOuter": 0}}, "x": {"datum": 0, "type": "quantitative", "scale": {"domain": [0, 1]}, "axis": null}, "x2": {"datum": 1}, "fill": {"condition": {"test": "datum.i % 2 == 1", "value": "#f2dcdb"}, "value": "#ffffff"}}},
        {"mark": {"type": "text", "align": "left", "baseline": "middle", "dx": 3, "fontSize": 10, "color": "#1e1e1e"},
         "encoding": {"y": {"field": "i", "type": "ordinal", "axis": null}, "x": {"datum": 0, "type": "quantitative", "axis": null}, "text": {"field": "padj"}}},
        {"transform": [{"filter": "datum.i == 1"}], "mark": {"type": "rule", "color": "#c96a68", "strokeWidth": 2},
         "encoding": {"y": {"field": "i", "type": "ordinal", "bandPosition": 0, "axis": null}, "x": {"datum": 0, "type": "quantitative", "axis": null}, "x2": {"datum": 1}}},
        {"transform": [{"filter": "datum.i == 7"}], "mark": {"type": "rule", "color": "#dca3a2", "strokeWidth": 1.5},
         "encoding": {"y": {"field": "i", "type": "ordinal", "bandPosition": 1, "axis": null}, "x": {"datum": 0, "type": "quantitative", "axis": null}, "x2": {"datum": 1}}}
       ]}
     ]}
    ]},
    {"width": 328, "height": 195,
     "view": {"stroke": "#8e8e8e"},
     "data": {"name": "cD"},
     "layer": [
      {"mark": {"type": "bar", "color": "#c0504d"},
       "encoding": {
        "y": {"field": "pathway", "type": "nominal",
              "scale": {"domain": ["Signal transduction by L1", "Syndecan interactions", "Non-small cell lung cancer", "Bladder cancer", "MicroRNAs in cancer", "Proteoglycans in cancer", "Viral carcinogenesis"], "range": [17, 155], "paddingInner": 0.33, "paddingOuter": 0.165},
              "axis": {"offset": -162, "labels": false, "domainColor": "#868686", "tickColor": "#868686", "tickSize": 4, "tickBand": "extent", "title": "Pathways", "titleAngle": 0, "titleAlign": "right", "titleBaseline": "middle", "titleX": -3, "titleY": 14, "titleFontSize": 10.5, "titleFontWeight": "bold", "titleColor": "#1a1a1a", "zindex": 1}},
        "x": {"field": "v", "type": "quantitative",
              "scale": {"domain": [0, 5], "range": [162, 319.5], "nice": false, "zero": true},
              "axis": {"offset": -40, "values": [0, 1, 2, 3, 4, 5], "format": "~g", "labelFlush": false, "domainColor": "#868686", "tickColor": "#868686", "tickSize": 4, "labelFontSize": 11, "labelPadding": 1, "labelColor": "#1a1a1a", "grid": false, "title": "10 based NegativeLogarithm of Ad. p-value", "titleFontSize": 10, "titleFontWeight": "bold", "titleColor": "#1a1a1a", "titleX": 221, "titleY": 22, "titleAlign": "center", "titleBaseline": "middle", "zindex": 1}},
        "x2": {"datum": 0}}},
      {"mark": {"type": "text", "align": "right", "baseline": "middle", "dx": -7, "fontSize": 10.5, "color": "#1a1a1a"},
       "encoding": {"y": {"field": "pathway", "type": "nominal"}, "x": {"datum": 0, "type": "quantitative"}, "text": {"field": "pathway"}}}
     ]}
   ]
  }
 ]
}
